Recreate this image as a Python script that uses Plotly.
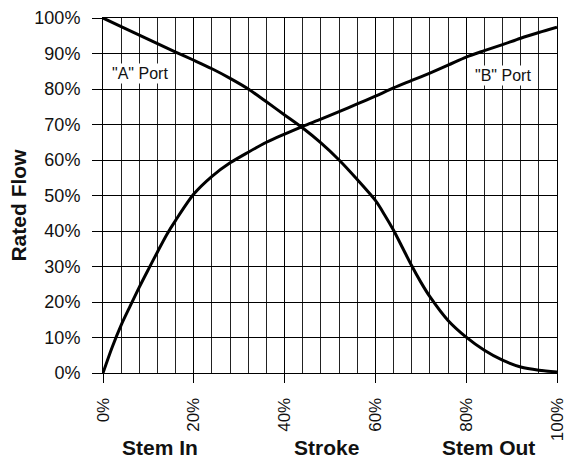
import plotly.graph_objects as go

# Stroke positions (%) and rated flow (%) for each port
stroke_a = [0, 4, 8, 12, 16, 20, 24, 28, 32, 36, 40, 44, 48, 52, 56, 60, 62, 64,
            66, 68, 70, 72, 76, 80, 84, 88, 92, 96, 100]
flow_a = [100, 97.6, 95.2, 92.8, 90.4, 88.1, 85.7, 83, 80, 76.4, 72.7, 69, 64.8, 60,
          54.5, 48.6, 44.6, 40.2, 35.2, 30.2, 25.6, 21.5, 14.8, 10.1, 6.4, 3.6, 1.7, 0.8, 0.3]

stroke_b = [0, 2, 4, 6, 8, 10, 12, 14, 16, 20, 24, 28, 32, 36, 40, 44, 48, 52,
            56, 60, 64, 68, 72, 76, 80, 84, 88, 92, 96, 100]
flow_b = [0, 7.2, 13.5, 18.9, 24.2, 29.2, 34.1, 38.9, 43.0, 50.4, 55.4, 59.2, 62.2,
          65, 67.3, 69.5, 71.5, 73.6, 75.8, 78, 80.3, 82.4, 84.5, 86.7, 89, 90.8,
          92.5, 94.3, 95.9, 97.4]

x_ticks = [0, 20, 40, 60, 80, 100]
x_tick_text = ["0%", "20%", "40%", "60%", "80%", "100%"]
y_ticks = [0, 10, 20, 30, 40, 50, 60, 70, 80, 90, 100]
y_tick_text = [f"{v}%" for v in y_ticks]

FONT = "Liberation Sans, Arial, Helvetica, sans-serif"

fig = go.Figure()
line_style = dict(color="black", width=3, shape="spline", smoothing=0.8)
fig.add_trace(go.Scatter(x=stroke_a, y=flow_a, mode="lines", line=line_style,
                         name='"A" Port', hoverinfo="skip"))
fig.add_trace(go.Scatter(x=stroke_b, y=flow_b, mode="lines", line=line_style,
                         name='"B" Port', hoverinfo="skip"))

fig.update_layout(
    width=565, height=463,
    margin=dict(l=103, r=8, t=18, b=90),
    paper_bgcolor="white", plot_bgcolor="white",
    showlegend=False,
    font=dict(family=FONT, size=18, color="#111"),
    xaxis=dict(
        range=[0, 100], tickvals=x_ticks, ticktext=x_tick_text, tickangle=-90,
        tickfont=dict(size=17),
        ticks="outside", ticklen=9, tickcolor="black", tickwidth=1,
        showgrid=True, gridcolor="black", gridwidth=1,
        minor=dict(dtick=4, tick0=0, showgrid=True, gridcolor="#222", gridwidth=1),
        showline=True, linecolor="black", linewidth=1, mirror=True,
        zeroline=False, ticklabelstandoff=8, ticklabeloverflow="allow",
        automargin=False,
    ),
    yaxis=dict(
        range=[0, 100], tickvals=y_ticks, ticktext=y_tick_text,
        ticks="outside", ticklen=10, tickcolor="black", tickwidth=1,
        showgrid=True, gridcolor="black", gridwidth=1,
        showline=True, linecolor="black", linewidth=1, mirror=True,
        zeroline=False, ticklabelstandoff=8, ticklabeloverflow="allow",
        automargin=False,
    ),
)

# Port labels inside the plot
port_font = dict(family=FONT, size=16, color="#111")
fig.add_annotation(x=8.2, y=84.4, xref="x", yref="y", text='"A" Port', showarrow=False,
                   font=port_font, bgcolor="white", xanchor="center", yanchor="middle")
fig.add_annotation(x=88.2, y=83.9, xref="x", yref="y", text='"B" Port', showarrow=False,
                   font=port_font, bgcolor="white", xanchor="center", yanchor="middle")

# Axis captions
bold = dict(family=FONT, size=21, color="#111")
fig.add_annotation(x=-0.187, y=0.472, xref="paper", yref="paper", text="<b>Rated Flow</b>",
                   textangle=-90, showarrow=False, font=bold,
                   xanchor="center", yanchor="middle")
for label, xp in [("Stem In", 0.1256), ("Stroke", 0.4927), ("Stem Out", 0.850)]:
    fig.add_annotation(x=xp, y=-0.209, xref="paper", yref="paper", text=f"<b>{label}</b>",
                       showarrow=False, font=bold, xanchor="center", yanchor="middle")

fig.write_html("out.html")
